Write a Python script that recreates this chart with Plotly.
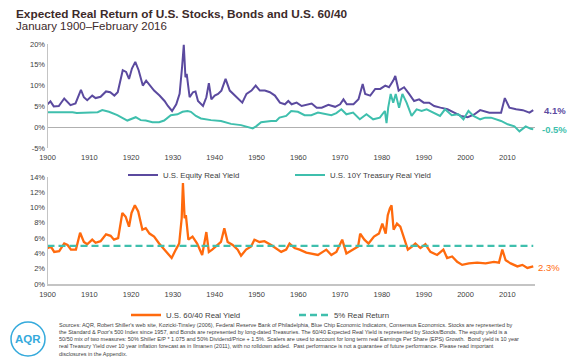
import plotly.graph_objects as go

# The page body adds an 8px margin, so the figure is sized/positioned to compensate.
OFF = 8
W, H = 580 - OFF, 363 - OFF
def px(x): return (x - OFF) / W
def py(y): return 1 - (y - OFF) / H

# ---------------- data ----------------
equity_years = [1900.0, 1900.7, 1901.5, 1902.7, 1904.0, 1904.8, 1905.5, 1906.7, 1908.0, 1908.7,
                1909.5, 1910.7, 1911.5, 1912.7, 1914.0, 1915.0, 1916.0, 1916.8, 1918.0, 1918.8,
                1919.5, 1920.2, 1921.0, 1921.8, 1922.8, 1923.6, 1924.5, 1925.5, 1926.8, 1928.0,
                1928.8, 1929.8, 1930.8, 1931.6, 1932.2, 1932.6, 1933.0, 1933.3, 1934.0, 1934.8,
                1935.4, 1936.0, 1937.2, 1938.0, 1938.6, 1939.2, 1940.0, 1940.8, 1941.6, 1942.6,
                1943.6, 1944.4, 1945.6, 1946.6, 1947.6, 1948.8, 1949.8, 1950.8, 1952.0, 1953.2,
                1954.4, 1955.6, 1956.8, 1957.6, 1958.4, 1959.6, 1960.8, 1962.0, 1963.2, 1964.4,
                1965.6, 1967.2, 1968.8, 1970.0, 1970.8, 1971.6, 1973.2, 1974.4, 1975.4, 1976.0,
                1977.2, 1978.4, 1979.6, 1980.8, 1981.7, 1982.7, 1983.2, 1984.0, 1985.3, 1986.5,
                1987.7, 1988.9, 1990.0, 1991.3, 1992.5, 1994.0, 1995.7, 1997.3, 1998.9, 2000.5,
                2002.0, 2003.5, 2005.7, 2008.5, 2009.4, 2010.5, 2012.1, 2013.7, 2015.3, 2016.2]
equity_yield = [5.5, 6.2, 5.0, 5.1, 6.9, 5.9, 5.3, 5.7, 9.0, 7.2,
                6.5, 7.6, 7.0, 7.3, 8.6, 8.4, 7.6, 8.4, 13.7, 13.3,
                11.6, 14.1, 15.7, 13.7, 10.0, 11.2, 10.0, 8.8, 7.6, 6.3,
                5.1, 3.9, 5.5, 8.0, 14.5, 19.8, 12.0, 12.8, 7.2, 8.4,
                8.6, 6.3, 5.1, 7.2, 10.6, 6.7, 7.6, 8.0, 8.8, 11.6,
                8.8, 8.0, 6.7, 5.9, 8.0, 8.8, 10.0, 8.8, 8.8, 8.4,
                7.6, 5.9, 5.5, 6.3, 5.5, 5.9, 5.1, 5.4, 5.7, 4.7,
                4.7, 5.4, 4.9, 5.5, 6.7, 5.5, 5.5, 6.7, 10.4, 8.0,
                7.6, 9.2, 9.2, 10.0, 9.6, 11.2, 12.3, 8.8, 9.6, 8.0,
                6.3, 6.7, 5.9, 5.9, 5.1, 4.7, 4.3, 3.5, 2.7, 2.4,
                3.0, 4.1, 3.5, 3.5, 7.0, 4.7, 4.3, 4.1, 3.5, 4.1]

treasury_years = [1900.0, 1906.0, 1907.0, 1912.0, 1913.1, 1914.7, 1916.7, 1919.1, 1921.1, 1922.3,
                  1923.5, 1925.1, 1926.7, 1927.9, 1929.5, 1931.1, 1932.3, 1933.5, 1934.3, 1935.5,
                  1936.7, 1939.1, 1941.5, 1943.9, 1946.3, 1947.9, 1949.1, 1949.9, 1951.1, 1953.5,
                  1954.7, 1955.5, 1957.1, 1958.3, 1959.9, 1961.5, 1963.1, 1964.7, 1966.3, 1967.9,
                  1969.1, 1970.3, 1971.5, 1973.1, 1974.7, 1976.3, 1977.9, 1979.5, 1980.7, 1981.1,
                  1981.5, 1982.1, 1982.7, 1983.3, 1984.1, 1984.9, 1985.9, 1987.1, 1988.3, 1989.5,
                  1990.7, 1992.3, 1993.9, 1995.1, 1996.7, 1998.3, 1999.5, 2000.7, 2001.9, 2003.5,
                  2004.7, 2006.1, 2008.5, 2010.1, 2011.7, 2012.9, 2014.4, 2015.6, 2016.2]
treasury_yield = [3.6, 3.6, 3.4, 3.6, 4.1, 3.7, 2.9, 1.6, 2.4, 1.7,
                  1.6, 1.2, 1.2, 1.6, 2.9, 3.1, 3.7, 3.9, 3.7, 2.7,
                  2.1, 1.7, 1.5, 0.8, 0.5, 0.1, -0.3, 0.2, 1.2, 1.5,
                  1.5, 2.3, 2.7, 3.9, 3.7, 2.9, 2.9, 3.5, 3.2, 2.9,
                  3.4, 4.3, 3.1, 3.5, 1.9, 3.1, 1.9, 2.3, 3.9, 1.0,
                  4.7, 8.0, 5.9, 8.0, 4.7, 8.0, 5.9, 2.7, 4.3, 3.9,
                  4.3, 3.5, 2.7, 4.3, 2.9, 3.1, 1.9, 3.9, 2.7, 1.9,
                  2.3, 2.3, 1.5, 0.7, 0.2, -1.0, 0.2, -0.4, -0.5]

mix_years = [1900.0, 1900.8, 1901.6, 1902.8, 1904.0, 1904.8, 1905.6, 1906.8, 1907.8, 1908.7,
             1909.5, 1910.7, 1911.5, 1912.7, 1914.0, 1915.1, 1915.9, 1916.9, 1917.9, 1918.7,
             1919.5, 1920.1, 1920.9, 1921.7, 1922.7, 1923.5, 1924.4, 1925.5, 1926.7, 1927.9,
             1928.7, 1929.7, 1930.7, 1931.5, 1932.1, 1932.4, 1932.8, 1933.1, 1933.7, 1934.7,
             1935.8, 1937.0, 1938.0, 1938.6, 1939.4, 1940.3, 1941.5, 1942.3, 1943.1, 1944.3,
             1945.5, 1946.3, 1947.5, 1948.7, 1949.5, 1950.7, 1951.9, 1953.5, 1954.7, 1955.9,
             1957.1, 1957.9, 1959.1, 1960.3, 1961.9, 1963.1, 1964.7, 1966.7, 1967.9, 1969.1,
             1970.5, 1971.5, 1973.1, 1974.3, 1974.8, 1975.8, 1976.8, 1978.1, 1979.3, 1980.1,
             1980.9, 1981.4, 1981.9, 1982.3, 1982.8, 1983.6, 1984.4, 1985.2, 1986.2, 1987.2,
             1988.0, 1989.2, 1990.4, 1991.6, 1993.2, 1994.7, 1995.6, 1996.8, 1998.0, 1999.2,
             2000.8, 2002.8, 2004.8, 2006.8, 2008.0, 2008.8, 2009.6, 2010.8, 2012.4, 2013.6,
             2014.8, 2016.2]
mix_yield = [4.7, 4.9, 4.2, 4.3, 5.3, 5.1, 4.5, 4.5, 6.7, 5.5,
             5.2, 5.8, 5.4, 5.6, 6.5, 6.3, 5.8, 6.0, 9.3, 8.8,
             7.5, 9.3, 10.3, 9.5, 7.1, 7.3, 6.6, 6.2, 5.3, 4.5,
             4.0, 3.4, 4.5, 5.3, 8.6, 13.2, 8.6, 9.0, 5.8, 6.2,
             5.3, 3.8, 6.8, 4.2, 4.5, 4.9, 5.5, 7.3, 5.5, 5.1,
             4.5, 3.7, 4.5, 4.9, 5.8, 5.5, 5.6, 5.1, 4.7, 4.2,
             4.5, 5.3, 4.7, 4.5, 4.1, 4.0, 3.8, 4.5, 3.8, 4.2,
             5.8, 4.0, 4.5, 4.9, 6.6, 5.8, 5.3, 6.2, 6.6, 7.9,
             6.6, 9.0, 9.9, 10.3, 7.1, 7.9, 7.5, 6.2, 4.5, 4.9,
             5.3, 4.7, 5.2, 4.2, 3.8, 4.5, 3.4, 3.6, 2.9, 2.5,
             2.7, 2.8, 2.7, 2.9, 2.8, 4.5, 3.1, 2.7, 2.3, 2.5,
             2.1, 2.3]

target_years = [1900.0, 2016.2]
target_return = [5, 5]

decade_ticks = list(range(1900, 2011, 10))
top_ticks = [-5, 0, 5, 10, 15, 20]
top_tick_labels = ["-5%", "0%", "5%", "10%", "15%", "20%"]
bottom_ticks = [0, 2, 4, 6, 8, 10, 12, 14]
bottom_tick_labels = ["0%", "2%", "4%", "6%", "8%", "10%", "12%", "14%"]

# ---------------- style ----------------
PURPLE = "#5b4a9f"
TEAL = "#3fbfad"
ORANGE = "#ff6a0d"
TITLE_C = "#3d2a2a"
TXT = "#404040"
AXC = "#c4c4c4"
FONT = "Liberation Sans, Arial, sans-serif"

X0, X1 = 47.5, 534.5
xdom = [px(X0), px(X1)]
xrange_ = [1900, 2016.5]

fig = go.Figure()
fig.add_trace(go.Scatter(x=equity_years, y=equity_yield, mode="lines", name="U.S. Equity Real Yield",
                         line=dict(color=PURPLE, width=2), xaxis="x", yaxis="y", legend="legend"))
fig.add_trace(go.Scatter(x=treasury_years, y=treasury_yield, mode="lines", name="U.S. 10Y Treasury Real Yield",
                         line=dict(color=TEAL, width=2), xaxis="x", yaxis="y", legend="legend"))
fig.add_trace(go.Scatter(x=mix_years, y=mix_yield, mode="lines", name="U.S. 60/40 Real Yield",
                         line=dict(color=ORANGE, width=2.3), xaxis="x2", yaxis="y2", legend="legend2"))
fig.add_trace(go.Scatter(x=target_years, y=target_return, mode="lines", name="5% Real Return",
                         line=dict(color=TEAL, width=2.3, dash="7px,4px"), xaxis="x2", yaxis="y2",
                         legend="legend2"))

tickfont = dict(family=FONT, size=7.5, color=TXT)
fig.update_layout(
    width=W, height=H,
    margin=dict(l=0, r=0, t=0, b=0, pad=0, autoexpand=False),
    paper_bgcolor="white", plot_bgcolor="white",
    font=dict(family=FONT, color=TXT),
    showlegend=True,
    xaxis=dict(domain=xdom, range=xrange_, tickmode="array", tickvals=decade_ticks, showgrid=False,
               zeroline=False, showline=False, ticks="", tickfont=tickfont, anchor="y", automargin=False,
               ticklabelstandoff=3),
    yaxis=dict(domain=[py(148), py(44)], range=[-5, 20], tickmode="array", tickvals=top_ticks,
               ticktext=top_tick_labels, showgrid=False, zeroline=True, zerolinecolor="#b0b0b0",
               zerolinewidth=1, showline=True, linecolor=AXC, linewidth=1, ticks="", tickfont=tickfont,
               anchor="x", automargin=False),
    xaxis2=dict(domain=xdom, range=xrange_, tickmode="array", tickvals=decade_ticks, showgrid=False,
                zeroline=False, showline=True, linecolor=AXC, linewidth=1.5, ticks="", tickfont=tickfont,
                anchor="y2", automargin=False, ticklabelstandoff=2),
    yaxis2=dict(domain=[py(284), py(177)], range=[0, 14], tickmode="array", tickvals=bottom_ticks,
                ticktext=bottom_tick_labels, showgrid=False, zeroline=False, showline=True, linecolor=AXC,
                linewidth=1, ticks="", tickfont=tickfont, anchor="x2", automargin=False),
    legend=dict(orientation="h", x=px(123), y=py(175), xanchor="left", yanchor="middle",
                font=dict(family=FONT, size=7.8, color=TXT), bgcolor="rgba(0,0,0,0)",
                entrywidth=122, entrywidthmode="pixels"),
    legend2=dict(orientation="h", x=px(126), y=py(315), xanchor="left", yanchor="middle",
                 font=dict(family=FONT, size=7.8, color=TXT), bgcolor="rgba(0,0,0,0)",
                 entrywidth=123, entrywidthmode="pixels"),
)

annotations = [
    dict(text="<b>Expected Real Return of U.S. Stocks, Bonds and U.S. 60/40</b>", x=px(14), y=py(14),
         xref="paper", yref="paper", xanchor="left", yanchor="middle", showarrow=False,
         font=dict(family=FONT, size=11.8, color=TITLE_C)),
    dict(text="January 1900–February 2016", x=px(14), y=py(26), xref="paper", yref="paper",
         xanchor="left", yanchor="middle", showarrow=False,
         font=dict(family=FONT, size=11.5, color=TITLE_C)),
    dict(text=f"<b>{equity_yield[-1]:.1f}%</b>", x=equity_years[-1], y=equity_yield[-1], xref="x", yref="y",
         xanchor="left", yanchor="middle", xshift=9, showarrow=False,
         font=dict(family=FONT, size=9.5, color=PURPLE)),
    dict(text=f"<b>{treasury_yield[-1]:.1f}%</b>", x=treasury_years[-1], y=treasury_yield[-1], xref="x", yref="y",
         xanchor="left", yanchor="middle", xshift=7, showarrow=False,
         font=dict(family=FONT, size=9.5, color=TEAL)),
    dict(text=f"{mix_yield[-1]:.1f}%", x=mix_years[-1], y=mix_yield[-1], xref="x2", yref="y2",
         xanchor="left", yanchor="middle", xshift=3, yshift=-1, showarrow=False,
         font=dict(family=FONT, size=9.5, color=ORANGE)),
    dict(text="<b>AQR</b>", x=px(28), y=py(339), xref="paper", yref="paper", xanchor="center",
         yanchor="middle", showarrow=False, font=dict(family=FONT, size=11.5, color="#35aadc")),
    dict(text=("Sources: AQR, Robert Shiller's web site, Kozicki-Tinsley (2006), Federal Reserve Bank of Philadelphia, "
               "Blue Chip Economic Indicators, Consensus Economics. Stocks are represented by<br>"
               "the Standard &amp; Poor's 500 Index since 1957, and Bonds are represented by long-dated Treasuries. "
               "The 60/40 Expected Real Yield is represented by Stocks/Bonds. The equity yield is a<br>"
               "50/50 mix of two measures: 50% Shiller E/P * 1.075 and 50% Dividend/Price + 1.5%. Scalers are used to "
               "account for long term real Earnings Per Share (EPS) Growth.  Bond yield is 10 year<br>"
               "real Treasury Yield over 10 year inflation forecast as in Ilmanen (2011), with no rolldown added.  "
               "Past performance is not a guarantee of future performance. Please read important<br>"
               "disclosures in the Appendix."),
         x=px(57), y=py(320), xref="paper", yref="paper", xanchor="left", yanchor="top", align="left",
         showarrow=False, font=dict(family=FONT, size=5.5, color=TXT)),
]
fig.update_layout(annotations=annotations)

fig.add_shape(type="circle", xref="paper", yref="paper", x0=px(11), x1=px(45), y0=py(356), y1=py(322),
              line=dict(color="#35aadc", width=1.5))

fig.write_html("out.html")
